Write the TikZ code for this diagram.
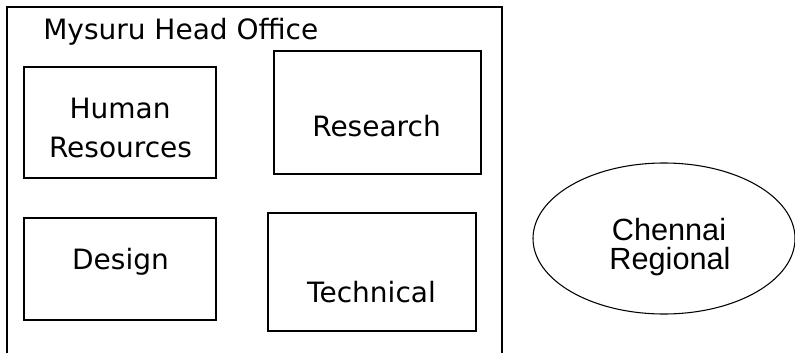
\documentclass[tikz,border=0pt]{standalone}
\usepackage{fontspec}
\setmainfont{DejaVu Sans}
\newfontfamily\regionFont{Liberation Sans}
\usetikzlibrary{shapes.geometric}
\newcommand{\deptSize}{\fontsize{21}{29}\selectfont}
\newcommand{\regionSize}{\regionFont\fontsize{23}{29}\selectfont}
\tikzset{
  deptBox/.style={draw, line width=1.2pt, inner sep=0pt},
  deptText/.style={anchor=base, inner sep=0pt, font=\deptSize},
  regionText/.style={anchor=base, inner sep=0pt, font=\regionSize}
}

\begin{document}
\begin{tikzpicture}[x=0.75pt,y=-0.75pt]
\useasboundingbox (0,0) rectangle (795,353);
% head office frame, open at the bottom
\coordinate (officeBL) at (7,353);
\coordinate (officeTL) at (7,7);
\coordinate (officeTR) at (502,7);
\coordinate (officeBR) at (502,353);
\draw[line width=1.2pt] (officeBL) -- (officeTL) -- (officeTR) -- (officeBR);
\node[deptText, anchor=base west, font=\fontsize{21}{29}\selectfont] (officeTitle) at (43,40) {Mysuru Head Office};
% departments
\node[deptBox, minimum width=144pt, minimum height=83.25pt] (hrBox) at (120,122.5) {};
\node[deptBox, minimum width=155.25pt, minimum height=92.25pt] (researchBox) at (377.5,112.5) {};
\node[deptBox, minimum width=144pt, minimum height=76.5pt] (designBox) at (120,269) {};
\node[deptBox, minimum width=156pt, minimum height=88.5pt] (technicalBox) at (372,272) {};
\node[deptText] (hrTop) at (120,118) {Human};
\node[deptText] (hrBottom) at (120.5,157) {Resources};
\node[deptText] (researchText) at (376.5,136) {Research};
\node[deptText] (designText) at (120.5,269) {Design};
\node[deptText] (technicalText) at (371.5,302) {Technical};
% regional office
\node[draw, ellipse, line width=0.8pt, inner sep=0pt, minimum width=196.5pt, minimum height=113.25pt] (chennaiOval) at (664,238.5) {};
\node[regionText] (chennaiTop) at (669,240) {Chennai};
\node[regionText] (chennaiBottom) at (670,269) {Regional};
\end{tikzpicture}
\end{document}
